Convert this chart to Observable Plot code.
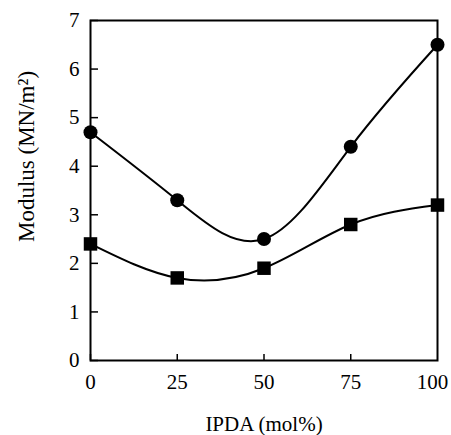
<!DOCTYPE html>
<html>
<head>
<meta charset="utf-8">
<script src="https://cdn.jsdelivr.net/npm/d3@7"></script>
<script src="https://cdn.jsdelivr.net/npm/@observablehq/plot@0.6"></script>
<style>
  html, body { margin: 0; padding: 0; background: #fff; }
  svg { font-family: "Liberation Serif", "DejaVu Serif", serif; }
</style>
</head>
<body>
<div id="chart"></div>
<script>
const ipda = [0, 25, 50, 75, 100];
const circleSeries = [4.7, 3.3, 2.5, 4.4, 6.5];
const squareSeries = [2.4, 1.7, 1.9, 2.8, 3.2];
const xTicks = [0, 25, 50, 75];
const xTickLast = [100];
const yTicks = [0, 1, 2, 3, 4, 5, 6, 7];
const xLabel = "IPDA (mol%)";
const yLabel = "Modulus (MN/m²)";

const circles = ipda.map((x, i) => ({x, y: circleSeries[i]}));
const squares = ipda.map((x, i) => ({x, y: squareSeries[i]}));

const chart = Plot.plot({
  width: 451,
  height: 435,
  marginLeft: 90,
  marginRight: 14,
  marginTop: 20,
  marginBottom: 75,
  style: {fontFamily: "Liberation Serif, DejaVu Serif, serif", fontSize: "21px", color: "#000", background: "#fff"},
  x: {domain: [0, 100]},
  y: {domain: [0, 7]},
  marks: [
    Plot.frame({stroke: "#000", strokeWidth: 2}),
    Plot.axisY({ticks: yTicks, tickFormat: "d", tickSize: -8, tickPadding: 19, label: null, strokeWidth: 1.5, fontSize: 21}),
    Plot.axisX({ticks: xTicks, tickFormat: "d", tickSize: -6, tickPadding: 20, label: null, strokeWidth: 1.5, fontSize: 21}),
    Plot.axisX({ticks: xTickLast, tickFormat: "d", tickSize: 0, tickPadding: 14, label: null, fontSize: 21, dx: -5}),
    Plot.line(circles, {x: "x", y: "y", curve: "natural", stroke: "#000", strokeWidth: 2}),
    Plot.line(squares, {x: "x", y: "y", curve: "natural", stroke: "#000", strokeWidth: 2}),
    Plot.dot(circles, {x: "x", y: "y", r: 7, fill: "#000", symbol: "circle"}),
    Plot.dot(squares, {x: "x", y: "y", r: 7.6, fill: "#000", symbol: "square"}),
    Plot.text([xLabel], {frameAnchor: "bottom", dy: 70, fontSize: 21, fill: "#000"}),
    Plot.text([yLabel], {frameAnchor: "left", textAnchor: "middle", rotate: -90, dx: -64, dy: -34, fontSize: 23, fill: "#000"})
  ]
});
document.getElementById("chart").appendChild(chart);
</script>
</body>
</html>
